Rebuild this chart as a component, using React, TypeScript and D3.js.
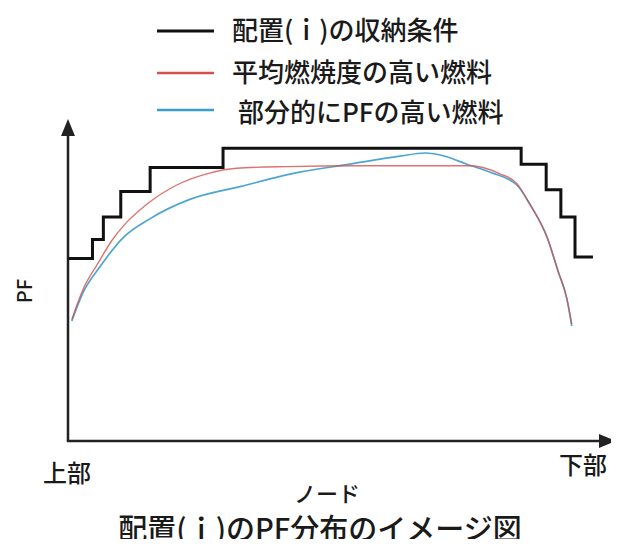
import { useEffect, useRef } from "react";
import * as d3 from "d3";

// node position (0 = 上部, 100 = 下部) and relative PF
const limitNodes = [0, 4.5, 6.5, 9.7, 15.1, 28.5, 83.3, 87.9, 90.6, 93.2, 96.5];
const limitPF    = [1.14, 1.26, 1.40, 1.56, 1.71, 1.83, 1.73, 1.57, 1.40, 1.15, 1.15];

const avgNodes = [0.7, 2.8, 5.5, 8.0, 10.6, 14.5, 20.0, 25.5, 31.0, 40.0, 53.7, 64.7, 73.9, 79.4, 82.5, 84.9, 88.1, 90.1, 91.7, 92.6];
const avgPF    = [0.76, 0.95, 1.11, 1.25, 1.36, 1.48, 1.60, 1.67, 1.705, 1.715, 1.72, 1.72, 1.72, 1.67, 1.61, 1.48, 1.27, 1.06, 0.89, 0.73];

const peakNodes = [0.7, 2.8, 5.9, 10.1, 15.1, 22.4, 31.6, 42.6, 51.8, 61.0, 65.6, 69.3, 73.3, 77.6, 82.5, 84.9, 88.1, 90.1, 91.7, 92.6];
const peakPF    = [0.75, 0.93, 1.09, 1.27, 1.39, 1.51, 1.59, 1.68, 1.73, 1.78, 1.80, 1.78, 1.73, 1.68, 1.60, 1.48, 1.27, 1.06, 0.89, 0.72];

const legendLabels = ["配置(ｉ)の収納条件", "平均燃焼度の高い燃料", "部分的にPFの高い燃料"];
const seriesColors = ["#111111", "#d4504c", "#3a9ccc"];

const W = 619;
const H = 547;
const FONT = "'Noto Sans CJK JP', 'Noto Sans', sans-serif";

export default function App() {
  const svgRef = useRef<SVGSVGElement>(null);

  useEffect(() => {
    if (!svgRef.current) return;
    const root = d3.select(svgRef.current);
    root.selectAll("*").remove();

    const x = d3.scaleLinear().domain([0, 100]).range([68, 612]);
    const y = d3.scaleLinear().domain([0, 2]).range([441, 121]);

    // axes with arrow heads
    const axisColor = "#222";
    root.append("line")
      .attr("x1", x(0)).attr("x2", x(0))
      .attr("y1", y(0)).attr("y2", 132)
      .attr("stroke", axisColor).attr("stroke-width", 2.5);
    root.append("path")
      .attr("d", `M ${x(0) - 7} 136 L ${x(0)} 119 L ${x(0) + 7} 136 Z`)
      .attr("fill", axisColor);
    root.append("line")
      .attr("x1", x(0) - 1.2).attr("x2", 603)
      .attr("y1", y(0)).attr("y2", y(0))
      .attr("stroke", axisColor).attr("stroke-width", 2.5);
    root.append("path")
      .attr("d", `M 599 ${y(0) - 7} L 616 ${y(0)} L 599 ${y(0) + 7} Z`)
      .attr("fill", axisColor);

    // staircase limit
    const stepLine = d3.line<number>()
      .x((_, i) => x(limitNodes[i]))
      .y(d => y(d))
      .curve(d3.curveStepAfter);
    root.append("path")
      .attr("d", stepLine(limitPF))
      .attr("fill", "none")
      .attr("stroke", seriesColors[0])
      .attr("stroke-width", 3);

    const smooth = (nodes: number[]) => d3.line<number>()
      .x((_, i) => x(nodes[i]))
      .y(d => y(d))
      .curve(d3.curveMonotoneX);

    root.append("path")
      .attr("d", smooth(peakNodes)(peakPF))
      .attr("fill", "none")
      .attr("stroke", seriesColors[2])
      .attr("stroke-width", 1.7)
      .attr("opacity", 0.9);
    root.append("path")
      .attr("d", smooth(avgNodes)(avgPF))
      .attr("fill", "none")
      .attr("stroke", seriesColors[1])
      .attr("stroke-width", 1.4)
      .attr("opacity", 0.8);

    // legend
    const legendY = [31, 73, 110];
    const textX = [232, 232, 238];
    const legend = root.append("g");
    legendLabels.forEach((label, i) => {
      legend.append("line")
        .attr("x1", 157).attr("x2", 214)
        .attr("y1", legendY[i]).attr("y2", legendY[i])
        .attr("stroke", seriesColors[i])
        .attr("stroke-width", i === 0 ? 3 : 2.5);
      legend.append("text")
        .attr("x", textX[i])
        .attr("y", legendY[i] - (i === 2 ? 0 : 3))
        .attr("dominant-baseline", "central")
        .attr("font-family", FONT)
        .attr("font-weight", 500)
        .attr("font-size", 26)
        .attr("fill", "#1a1a1a")
        .text(label);
    });

    // axis labels
    const labelStyle = (t: d3.Selection<SVGTextElement, unknown, null, undefined>, size: number) =>
      t.attr("font-family", FONT).attr("font-weight", 500).attr("font-size", size)
       .attr("fill", "#1a1a1a").attr("dominant-baseline", "central");

    labelStyle(root.append("text").attr("x", 67).attr("y", 471).attr("text-anchor", "middle").text("上部"), 24);
    labelStyle(root.append("text").attr("x", 583).attr("y", 463).attr("text-anchor", "middle").text("下部"), 24);
    labelStyle(root.append("text").attr("x", 327).attr("y", 492).attr("text-anchor", "middle").text("ノード"), 22);
    labelStyle(root.append("text")
      .attr("transform", "translate(23,291) rotate(-90)")
      .attr("text-anchor", "middle").text("PF"), 20);
    labelStyle(root.append("text").attr("x", 320).attr("y", 527).attr("text-anchor", "middle").text("配置(ｉ)のPF分布のイメージ図"), 29);
  }, []);

  return (
    <div style={{ margin: -8, width: W, height: H, background: "#fff" }}>
      <svg ref={svgRef} width={W} height={H} style={{ display: "block" }} />
    </div>
  );
}
